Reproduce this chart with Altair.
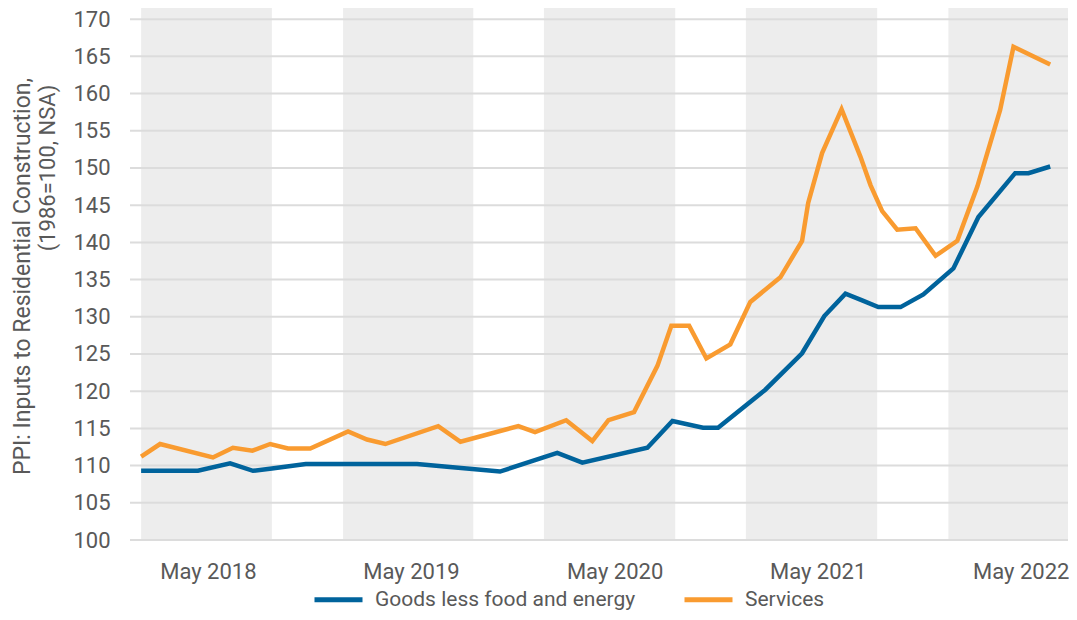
import altair as alt
import pandas as pd

SERIES = ["Goods less food and energy", "Services"]
COLORS = ["#00639c", "#f99b30"]

# Goods less food and energy (dates of vertices, index values)
goods_dates = ["2018-01-01", "2018-04-13", "2018-06-10", "2018-07-21", "2018-08-24",
               "2018-10-24", "2019-05-12", "2019-07-10", "2019-10-08", "2020-01-19",
               "2020-03-04", "2020-06-29", "2020-08-13", "2020-10-07", "2020-11-03",
               "2021-01-27", "2021-04-03", "2021-05-13", "2021-06-20", "2021-07-20",
               "2021-08-18", "2021-09-27", "2021-11-07", "2021-12-31", "2022-02-14",
               "2022-04-21", "2022-05-15", "2022-06-23"]
goods_values = [109.3, 109.3, 110.3, 109.3, 109.6,
                110.2, 110.2, 109.8, 109.2, 111.7,
                110.4, 112.4, 116.0, 115.1, 115.1,
                120.2, 125.1, 130.1, 133.1, 132.2,
                131.3, 131.3, 133.0, 136.5, 143.4,
                149.3, 149.3, 150.2]

# Services
services_dates = ["2018-01-01", "2018-02-04", "2018-05-10", "2018-06-15", "2018-07-20",
                  "2018-08-21", "2018-09-22", "2018-11-01", "2019-01-08", "2019-02-11",
                  "2019-03-16", "2019-06-19", "2019-07-29", "2019-11-10", "2019-12-10",
                  "2020-02-04", "2020-03-22", "2020-04-20", "2020-06-05", "2020-07-17",
                  "2020-08-11", "2020-09-12", "2020-10-13", "2020-11-25", "2020-12-31",
                  "2021-02-23", "2021-04-03", "2021-04-14", "2021-05-09", "2021-06-13",
                  "2021-07-17", "2021-08-04", "2021-08-25", "2021-09-21", "2021-10-24",
                  "2021-11-29", "2022-01-07", "2022-02-12", "2022-03-25", "2022-04-18",
                  "2022-06-23"]
services_values = [111.2, 112.9, 111.1, 112.4, 112.0,
                   112.9, 112.3, 112.3, 114.6, 113.5,
                   112.9, 115.3, 113.2, 115.3, 114.5,
                   116.1, 113.3, 116.1, 117.2, 123.4,
                   128.8, 128.8, 124.4, 126.3, 132.0,
                   135.3, 140.2, 145.3, 152.0, 157.9,
                   151.5, 147.7, 144.2, 141.7, 141.9,
                   138.2, 140.2, 147.5, 157.8, 166.3,
                   163.9]

# Shaded background bands
band_starts = ["2018-01-01", "2018-12-30", "2019-12-26", "2020-12-23", "2021-12-22"]
band_ends = ["2018-08-24", "2019-08-21", "2020-08-18", "2021-08-16", "2022-07-25"]

# Axis ticks
y_ticks = [100, 105, 110, 115, 120, 125, 130, 135, 140, 145, 150, 155, 160, 165, 170]
x_tick_dates = ["2018-05-01", "2019-05-01", "2020-05-01", "2021-05-01", "2022-05-01"]
x_domain = ["2017-12-12", "2022-07-25"]
y_domain = [100, 171.5]

Y_TITLE_1 = "PPI: Inputs to Residential Construction,"
Y_TITLE_2 = "(1986=100, NSA)"

TEXT = "#595959"
FONT = "Roboto"


def dt(s):
    y, m, d = (int(p) for p in s.split("-"))
    return alt.DateTime(year=y, month=m, date=d, utc=True)


lines_df = pd.DataFrame({
    "date": goods_dates + services_dates,
    "value": goods_values + services_values,
    "series": [SERIES[0]] * len(goods_dates) + [SERIES[1]] * len(services_dates),
})
bands_df = pd.DataFrame({"start": band_starts, "end": band_ends})
grid_df = pd.DataFrame({"value": y_ticks})
title_df = pd.DataFrame({"t": [Y_TITLE_2]})

xscale = alt.Scale(type="utc", domain=[dt(s) for s in x_domain])
yscale = alt.Scale(domain=y_domain, nice=False, zero=False)

xaxis = alt.Axis(
    values=[dt(s) for s in x_tick_dates],
    labelExpr="utcFormat(datum.value, '%b %Y')",
    labelFontSize=22,
    labelColor=TEXT,
    labelFont=FONT,
    labelPadding=21,
    labelFlush=False,
    labelOverlap=False,
    labelLimit=0,
    ticks=False,
    tickSize=0,
    domain=False,
    grid=False,
    title=None,
)
yaxis = alt.Axis(
    values=y_ticks,
    labelFontSize=22,
    labelColor=TEXT,
    labelFont=FONT,
    labelPadding=20,
    ticks=False,
    tickSize=0,
    domain=False,
    grid=False,
    title=Y_TITLE_1,
    titleFont=FONT,
    titleFontSize=23,
    titleFontWeight="normal",
    titleColor=TEXT,
    titleAngle=270,
    titleBaseline="middle",
    titleAlign="center",
    titleX=-108,
    titleY=268,
)

bands = alt.Chart(bands_df).mark_rect(color="#ededed").encode(
    x=alt.X("start:T", scale=xscale, axis=xaxis),
    x2="end:T",
)

grid = alt.Chart(grid_df).mark_rule(color="#dcdcdc", strokeWidth=2).encode(
    y=alt.Y("value:Q", scale=yscale, axis=yaxis)
)

lines = alt.Chart(lines_df).mark_line(strokeWidth=4.5, strokeJoin="miter").encode(
    x=alt.X("date:T", scale=xscale, axis=xaxis),
    y=alt.Y("value:Q", scale=yscale, axis=yaxis),
    color=alt.Color(
        "series:N",
        scale=alt.Scale(domain=SERIES, range=COLORS),
        legend=alt.Legend(
            orient="none",
            legendX=182,
            legendY=565,
            direction="horizontal",
            title=None,
            symbolType="stroke",
            symbolStrokeWidth=5,
            symbolSize=2304,
            labelFontSize=21,
            labelFont=FONT,
            labelColor=TEXT,
            labelOffset=10,
            labelLimit=0,
            columnPadding=38,
        ),
    ),
)

title2 = alt.Chart(title_df).mark_text(
    angle=270, align="center", baseline="middle", fontSize=22, font=FONT, color=TEXT
).encode(
    text="t:N",
    x=alt.value(-82),
    y=alt.value(160),
)

chart = alt.layer(bands, grid, lines, title2).properties(
    width=938,
    height=532,
    padding={"left": 122, "top": 0, "right": 1, "bottom": 72},
    autosize=alt.AutoSizeParams(type="none"),
    background="white",
).configure_view(stroke=None)

chart.save("out.html", embed_options={"renderer": "svg", "actions": False})
